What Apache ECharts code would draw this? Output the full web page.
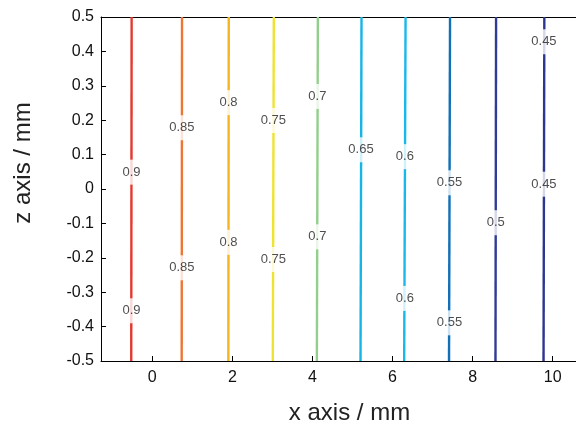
<!DOCTYPE html>
<html>
<head>
<meta charset="utf-8">
<script src="https://cdn.jsdelivr.net/npm/echarts@6/dist/echarts.min.js"></script>
<style>
  html, body { margin: 0; padding: 0; background: #fff; }
  #chart { width: 576px; height: 428px; }
</style>
</head>
<body>
<div id="chart"></div>
<script>
// contour levels and where each one crosses the top (z=0.5) and bottom (z=-0.5) edge
let levels = [0.9, 0.85, 0.8, 0.75, 0.7, 0.65, 0.6, 0.55, 0.5, 0.45];
let xTop = [-0.515, 0.743, 1.91, 3.035, 4.135, 5.225, 6.325, 7.435, 8.585, 9.79];
let xBottom = [-0.525, 0.735, 1.90, 3.01, 4.11, 5.20, 6.29, 7.41, 8.57, 9.77];
let zRange = [0.5, -0.5];
let colors = ['#e4392e', '#ef7632', '#f8b41e', '#efe332', '#93cf8c', '#17b4e6', '#19b8ec', '#1170b7', '#2f3b96', '#2c3590'];
// z position of the inline labels on each line
let labelZ = [
  [0.049, -0.354],
  [0.178, -0.229],
  [0.251, -0.155],
  [0.199, -0.205],
  [0.269, -0.139],
  [0.114],
  [0.094, -0.318],
  [0.018, -0.389],
  [-0.098],
  [0.428, 0.014]
];
let xTicks = [0, 2, 4, 6, 8, 10];

let font = '"Liberation Sans", Arial, Helvetica, sans-serif';
let chart = echarts.init(document.getElementById('chart'));

let series = [];
for (let i = 0; i < levels.length; i++) {
  series.push({
    name: 'c' + i,
    type: 'line',
    data: [[xTop[i], zRange[0]], [xBottom[i], zRange[1]]],
    showSymbol: false,
    symbol: 'none',
    silent: true,
    z: 2,
    lineStyle: { color: colors[i], width: 2.4 }
  });
}

let lbl = [];
for (let i = 0; i < levels.length; i++) {
  let xm = (xTop[i] + xBottom[i]) / 2;
  labelZ[i].forEach(z => lbl.push({ value: [xm, z], name: String(levels[i]) }));
}
series.push({
  type: 'scatter',
  data: lbl,
  symbolSize: 0,
  silent: true,
  z: 5,
  itemStyle: { color: '#fff' },
  label: {
    show: true,
    position: 'inside',
    formatter: p => p.name,
    color: '#222',
    fontFamily: font,
    fontSize: 13,
    textBorderWidth: 0,
    backgroundColor: '#fff',
    padding: [6, 2]
  }
});

chart.setOption({
  animation: false,
  backgroundColor: '#fff',
  grid: { left: 101, width: 497, top: 17, height: 344, show: false, outerBoundsMode: 'none', containLabel: false },
  xAxis: [{
    type: 'value',
    min: -1.28,
    max: 11.13,
    name: 'x axis / mm',
    nameLocation: 'middle',
    nameGap: 40,
    nameTextStyle: { fontFamily: font, fontSize: 24, color: '#222' },
    axisLine: { show: true, onZero: false, lineStyle: { color: '#000', width: 1 } },
    axisTick: { show: true, inside: true, length: 5, customValues: xTicks, lineStyle: { color: '#000' } },
    axisLabel: { customValues: xTicks, margin: 9, fontFamily: font, fontSize: 16, color: '#111' },
    splitLine: { show: false }
  }, {
    type: 'value',
    position: 'top',
    min: -1.28,
    max: 11.13,
    axisLine: { show: true, onZero: false, lineStyle: { color: '#000', width: 1 } },
    axisTick: { show: false },
    axisLabel: { show: false },
    splitLine: { show: false }
  }],
  yAxis: {
    type: 'value',
    min: -0.5,
    max: 0.5,
    interval: 0.1,
    name: 'z axis / mm',
    nameLocation: 'middle',
    nameGap: 66,
    nameTextStyle: { fontFamily: font, fontSize: 24, color: '#222', padding: [0, 0, 0, 52] },
    axisLine: { show: true, onZero: false, lineStyle: { color: '#000', width: 1 } },
    axisTick: { show: true, inside: true, length: 5, lineStyle: { color: '#000' } },
    axisLabel: {
      margin: 7,
      fontFamily: font,
      fontSize: 16,
      color: '#111',
      formatter: v => String(+v.toFixed(1))
    },
    splitLine: { show: false }
  },
  series: series
});
</script>
</body>
</html>
